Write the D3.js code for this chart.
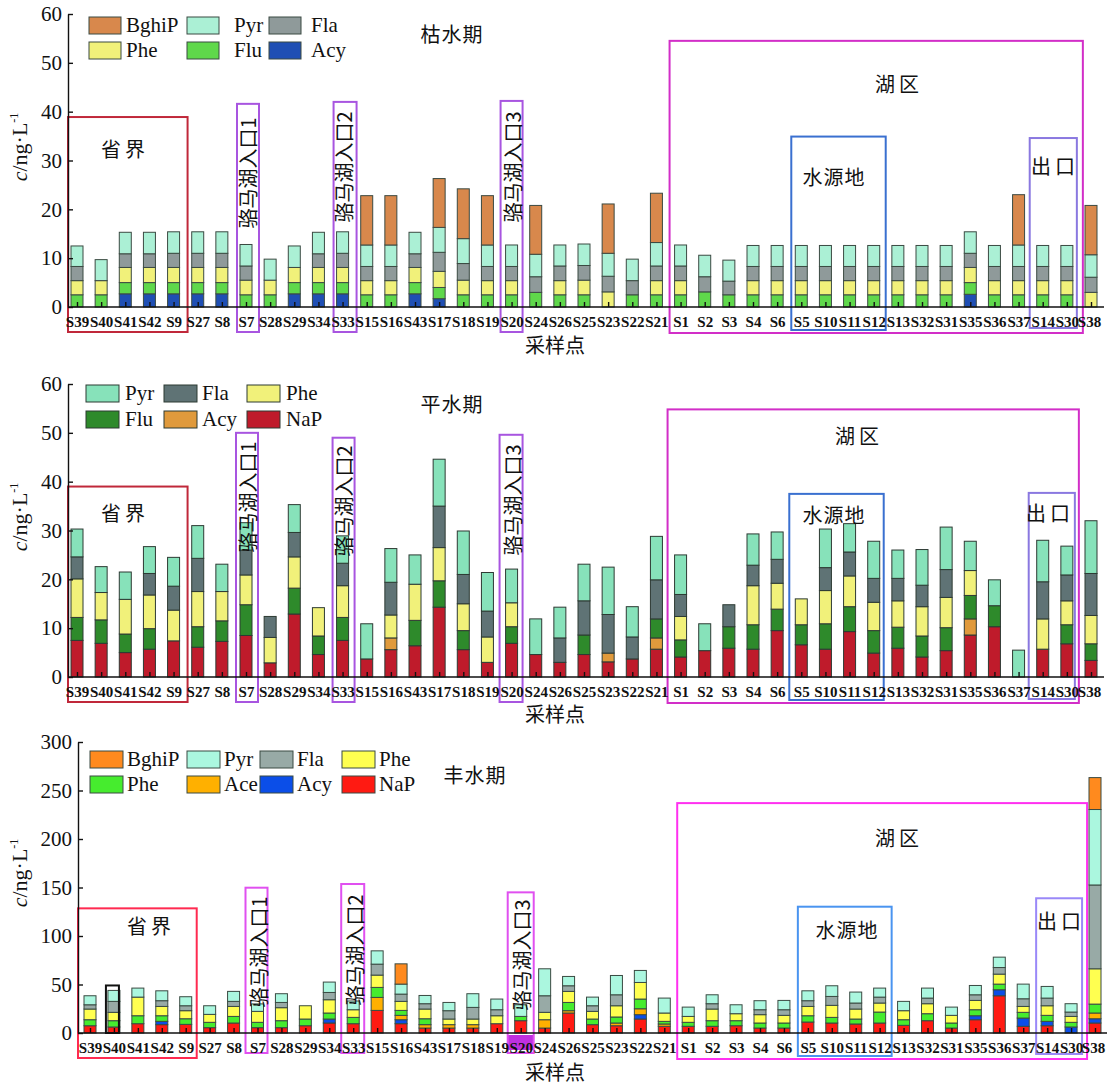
<!DOCTYPE html>
<html>
<head>
<meta charset="utf-8">
<script src="https://cdn.jsdelivr.net/npm/d3@7"></script>
<style>
  body { margin: 0; background: #fff; }
  svg { display: block; }
  text { font-family: "Liberation Serif", "Times New Roman", serif; fill: #111; }
  .cjk { font-family: "Noto Sans CJK SC", sans-serif; }
</style>
</head>
<body>
<div id="chart"></div>
<script>
// sampling sites, left to right
const sites = ["S39","S40","S41","S42","S9","S27","S8","S7","S28","S29",
               "S34","S33","S15","S16","S43","S17","S18","S19","S20","S24",
               "S26","S25","S23","S22","S21","S1","S2","S3","S4","S6",
               "S5","S10","S11","S12","S13","S32","S31","S35","S36","S37",
               "S14","S30","S38"];

// 枯水期 (ng/L), stacked bottom -> top
const dryAcy   = [0,0,2.7,2.7,2.7, 2.7,2.7,0,0,2.7, 2.7,2.7,0,0,2.7, 1.7,0,0,0,0, 0,0,0,0,0, 0,0,0,0,0, 0,0,0,0,0, 0,0,2.6,0,0, 0,0,0];
const dryFlu   = [2.5,2.5,2.3,2.3,2.3, 2.3,2.3,2.5,2.5,2.3, 2.3,2.3,2.5,2.5,2.3, 2.3,2.5,2.5,2.5,3.0, 2.5,2.5,0,2.5,2.5, 2.5,3.1,2.5,2.5,2.5, 2.5,2.5,2.5,2.5,2.5, 2.5,2.5,2.4,2.5,2.5, 2.5,2.5,0];
const dryPhe   = [2.9,2.9,3.1,3.1,3.1, 3.1,3.1,3.0,3.0,3.1, 3.1,3.1,2.9,2.9,3.1, 3.3,3.0,2.9,2.9,0, 2.9,3.0,3.1,0,2.9, 2.9,0,0,2.9,2.9, 2.9,2.9,2.9,2.9,2.9, 2.9,2.9,3.1,2.9,2.9, 2.9,2.9,3.0];
const dryFla   = [2.9,0,2.8,2.8,2.9, 2.9,2.9,2.9,0,0, 2.8,2.9,2.9,2.9,2.8, 3.9,3.4,2.9,2.9,3.2, 3.0,3.0,3.2,2.9,3.0, 3.0,3.1,2.8,2.9,2.9, 2.9,2.9,2.9,2.9,2.9, 2.9,2.9,2.9,2.9,2.9, 2.9,2.9,3.1];
const dryPyr   = [4.2,4.3,4.4,4.4,4.4, 4.4,4.4,4.4,4.3,4.4, 4.4,4.4,4.4,4.4,4.4, 5.1,5.1,4.4,4.4,4.6, 4.3,4.4,4.7,4.4,4.8, 4.3,4.4,4.3,4.3,4.3, 4.3,4.3,4.3,4.3,4.3, 4.3,4.3,4.4,4.3,4.4, 4.3,4.3,4.6];
const dryBghiP = [0,0,0,0,0, 0,0,0,0,0, 0,0,10.1,10.1,0, 10.0,10.2,10.1,0,10.0, 0,0,10.1,0,10.1, 0,0,0,0,0, 0,0,0,0,0, 0,0,0,0,10.3, 0,0,10.1];

// 平水期
const normNaP = [7.5,6.9,5.0,5.7,7.4, 6.1,7.3,8.5,2.9,12.9, 4.6,7.5,3.7,5.6,6.4, 14.3,5.6,3.0,6.9,4.6, 3.0,4.6,3.1,3.7,5.7, 4.1,5.4,5.9,5.7,9.5, 6.6,5.7,9.3,4.9,5.9, 4.1,5.4,8.6,10.3,0, 5.7,6.8,3.4];
const normAcy = [0,0,0,0,0, 0,0,0,0,0, 0,0,0,2.4,0, 0,0,0,0,0, 0,0,1.8,0,2.3, 0,0,0,0,0, 0,0,0,0,0, 0,0,3.3,0,0, 0,0,0];
const normFlu = [4.7,4.8,3.8,4.2,0, 4.2,4.2,6.3,0,5.3, 3.8,4.7,0,0,5.2, 5.4,3.9,0,3.4,0, 0,4.0,0,0,3.9, 3.5,0,4.4,5.0,4.4, 4.1,5.2,5.1,4.6,4.3, 4.3,4.7,4.8,4.3,0, 0,3.9,3.4];
const normPhe = [7.9,5.6,7.1,6.9,6.3, 7.2,6.0,6.1,5.2,6.4, 5.8,6.5,0,4.7,7.4, 6.8,5.5,5.2,4.9,0, 0,0,0,0,0, 4.8,0,0,8.0,5.3, 5.3,6.8,6.3,5.8,5.4, 6.0,6.2,5.1,0,0, 6.2,4.9,5.8];
const normFla = [4.5,0,0,4.4,4.9, 6.8,0,5.1,4.3,5.0, 0,4.6,0,6.7,0, 8.5,6.0,5.3,0,0, 5.0,7.0,7.9,4.5,8.0, 4.5,0,4.5,4.2,4.9, 0,4.7,4.9,4.9,4.6, 4.4,5.7,0,0,0, 7.6,5.3,8.6];
const normPyr = [5.7,5.3,5.6,5.5,5.9, 6.7,5.6,5.6,0,5.7, 0,5.6,7.2,6.9,6.0, 9.6,8.9,7.9,6.9,7.3, 6.3,7.5,9.7,6.2,8.9, 8.1,5.5,0,6.4,5.6, 0,7.9,5.8,7.6,5.8, 7.3,8.7,6.0,5.3,5.5, 8.5,5.9,10.8];

// 丰水期
const wetNaP   = [7.5,6.2,9.6,8.6,8.9, 5.5,10.3,5.5,5.5,7.5, 10.3,9.6,23.3,9.6,5.1, 5.1,5.1,9.6,12.7,5.1, 20.6,8.6,7.5,14.4,6.9, 6.9,6.9,7.5,5.1,5.1, 11.3,10.3,9.3,10.3,7.9, 12.7,5.1,13.7,38.4,6.9, 7.5,0,10.3];
const wetAcy   = [0,0,0,3.4,0, 0,0,0,0,0, 4.1,0,0,4.1,0, 0,0,0,0,0, 0,0,0,4.5,0, 0,0,0,0,0, 0,0,0,0,0, 0,0,4.1,6.2,8.5, 4.5,6.2,4.4];
const wetAce   = [0,0,0,0,0, 0,0,0,0,0, 0,0,13.4,4.5,3.5, 3.5,3.5,0,0,8.6, 2.4,0,2.8,6.1,2.4, 0,0,0,0,0, 0,0,0,0,0, 0,0,0,0,0, 0,0,5.9];
const wetFlu   = [6.2,6.5,8.2,5.8,5.8, 5.5,6.8,5.5,7.2,6.9, 6.2,6.5,10.3,5.1,6.1, 0,0,0,4.4,0, 8.5,5.8,6.2,10.0,2.7, 4.1,5.8,5.2,5.2,5.2, 6.5,5.8,5.1,11.3,5.8, 7.2,5.2,6.2,5.8,5.9, 6.2,4.8,9.2];
const wetPhe   = [11.0,8.6,19.2,9.6,8.3, 8.2,10.3,11.3,13.4,13.7, 13.7,7.9,12.7,9.3,10.0, 5.8,5.8,8.2,0,7.6, 11.4,7.9,11.6,17.1,8.6, 6.1,12.0,7.2,8.6,7.9, 9.6,12.4,10.3,9.3,9.3, 10.3,7.9,9.6,10.3,6.1, 9.9,6.1,36.4];
const wetFla   = [4.4,11.3,0,5.9,5.1, 0,5.2,0,5.4,0, 7.5,0,11.3,7.5,5.5, 8.6,12.0,6.2,0,17.1, 5.8,5.8,11.3,0,0, 0,5.5,0,5.1,5.8, 5.9,9.2,6.2,6.1,0, 5.8,0,5.8,6.8,7.9, 7.9,4.5,86.4];
const wetPyr   = [9.3,11.3,9.3,10.2,9.3, 8.9,10.3,7.7,9.0,0, 10.7,9.0,13.7,10.3,8.5, 8.5,14.1,11.0,12.0,27.8, 9.6,8.9,19.9,12.4,15.4, 9.6,9.2,9.2,9.3,9.6, 10.2,11.0,11.3,9.3,9.6, 10.3,8.5,9.6,10.7,15.1, 12.0,8.6,77.8];
const wetBghiP = [0,0,0,0,0, 0,0,0,0,0, 0,0,0,20.9,0, 0,0,0,0,0, 0,0,0,0,0, 0,0,0,0,0, 0,0,0,0,0, 0,0,0,0,0, 0,0,32.9];

const smallTicks = [0,10,20,30,40,50,60];
const bigTicks = [0,50,100,150,200,250,300];

const W = 1107, H = 1086, barW = 12;
const svg = d3.select("#chart").append("svg").attr("width", W).attr("height", H);

const dry = {
  title: "枯水期", titlePos: [452, 33],
  keys: ["Acy","Flu","Phe","Fla","Pyr","BghiP"],
  series: [dryAcy, dryFlu, dryPhe, dryFla, dryPyr, dryBghiP],
  colors: {Acy:"#1f4fb4", Flu:"#5fd84b", Phe:"#f1f17a", Fla:"#8f9a9a", Pyr:"#abf0d5", BghiP:"#d8884c"},
  stroke: "#3b4a42",
  ticks: smallTicks, yMax: 60, yRange: [307, 14], xRange: [77, 1091], axisX: 68, axisEnd: 1104,
  ytitleY: 147, xtitleY: 353,
  legend: [
    {k:"BghiP", sx:89, tx:126, r:0}, {k:"Pyr", sx:187, tx:234, r:0}, {k:"Fla", sx:269, tx:311, r:0},
    {k:"Phe", sx:89, tx:126, r:1}, {k:"Flu", sx:187, tx:234, r:1}, {k:"Acy", sx:269, tx:311, r:1}],
  legendY: [17, 42], swW: 32,
  boxes: [
    {a:"S39", b:"S9",  dl:-9,  dr:14,  top:38.9, bottom:332, c:"#c0283a"},
    {a:"S7",  b:"S7",  dl:-9,  dr:13,  top:41.6, bottom:332, c:"#a855e0"},
    {a:"S33", b:"S33", dl:-9,  dr:14,  top:42.0, bottom:332, c:"#a855e0"},
    {a:"S20", b:"S20", dl:-11, dr:11,  top:42.2, bottom:332, c:"#a855e0"},
    {a:"S1",  b:"S30", dl:-11, dr:16,  top:54.5, bottom:333, c:"#d22ec8"},
    {a:"S5",  b:"S12", dl:-10, dr:12,  top:34.9, bottom:330, c:"#3a70d0"},
    {a:"S14", b:"S30", dl:-13, dr:10,  top:34.6, bottom:328, c:"#8a78e0"}],
  labels: [
    {t:"省界", x:125, y:148}, {t:"湖区", x:899, y:83}, {t:"水源地", x:834, y:176}, {t:"出口", x:1055, y:165},
    {t:"骆马湖入口1", site:"S7", y:173, rot:true}, {t:"骆马湖入口2", site:"S33", y:167, rot:true},
    {t:"骆马湖入口3", site:"S20", y:167, rot:true}]
};

const norm = {
  title: "平水期", titlePos: [452, 403],
  keys: ["NaP","Acy","Flu","Phe","Fla","Pyr"],
  series: [normNaP, normAcy, normFlu, normPhe, normFla, normPyr],
  colors: {NaP:"#bf1b2b", Acy:"#e09a3c", Flu:"#2e8a2b", Phe:"#f1f17a", Fla:"#5f7375", Pyr:"#87e2ba"},
  stroke: "#2d3a33",
  ticks: smallTicks, yMax: 60, yRange: [677, 384], xRange: [77, 1091], axisX: 68, axisEnd: 1104,
  ytitleY: 517, xtitleY: 722,
  legend: [
    {k:"Pyr", sx:86, tx:125, r:0}, {k:"Fla", sx:164, tx:202, r:0}, {k:"Phe", sx:247, tx:286, r:0},
    {k:"Flu", sx:86, tx:125, r:1}, {k:"Acy", sx:164, tx:202, r:1}, {k:"NaP", sx:247, tx:286, r:1}],
  legendY: [385, 411], swW: 33,
  boxes: [
    {a:"S39", b:"S9",  dl:-9,  dr:14,  top:39.0, bottom:702, c:"#c0283a"},
    {a:"S7",  b:"S7",  dl:-10, dr:12,  top:50.0, bottom:702, c:"#a855e0"},
    {a:"S33", b:"S33", dl:-10, dr:12,  top:49.0, bottom:702, c:"#a855e0"},
    {a:"S20", b:"S20", dl:-12, dr:11,  top:49.6, bottom:702, c:"#a855e0"},
    {a:"S1",  b:"S30", dl:-13, dr:12,  top:54.8, bottom:703, c:"#d22ec8"},
    {a:"S5",  b:"S12", dl:-12, dr:10,  top:37.5, bottom:700, c:"#3a70d0"},
    {a:"S14", b:"S30", dl:-14, dr:8,   top:37.7, bottom:699, c:"#8a78e0"}],
  labels: [
    {t:"省界", x:125, y:512}, {t:"湖区", x:859, y:435}, {t:"水源地", x:834, y:514}, {t:"出口", x:1050, y:512},
    {t:"骆马湖入口1", site:"S7", y:497, rot:true}, {t:"骆马湖入口2", site:"S33", y:501, rot:true},
    {t:"骆马湖入口3", site:"S20", y:500, rot:true}]
};

const wet = {
  title: "丰水期", titlePos: [475, 774],
  keys: ["NaP","Acy","Ace","Flu","Phe","Fla","Pyr","BghiP"],
  series: [wetNaP, wetAcy, wetAce, wetFlu, wetPhe, wetFla, wetPyr, wetBghiP],
  colors: {NaP:"#ff1a12", Acy:"#0b4ee8", Ace:"#ffb000", Flu:"#46ec2e", Phe:"#ffff50", Fla:"#98aaa6", Pyr:"#abf7df", BghiP:"#ff8a1e"},
  names: {Flu:"Phe"},
  stroke: "#3a4a42",
  ticks: bigTicks, yMax: 300, yRange: [1033, 742], xRange: [90, 1095], axisX: 78, axisEnd: 1107,
  ytitleY: 873, xtitleY: 1080,
  legend: [
    {k:"BghiP", sx:90, tx:127, r:0}, {k:"Pyr", sx:187, tx:224, r:0}, {k:"Fla", sx:260, tx:297, r:0}, {k:"Phe", sx:342, tx:379, r:0},
    {k:"Flu", sx:90, tx:127, r:1}, {k:"Ace", sx:187, tx:224, r:1}, {k:"Acy", sx:260, tx:297, r:1}, {k:"NaP", sx:342, tx:379, r:1}],
  legendY: [751, 776], swW: 33,
  boxes: [
    {a:"S39", b:"S9",  dl:-12, dr:11,  top:128.5, bottom:1058, c:"#ff2a50"},
    {a:"S40", b:"S40", dl:-8,  dr:5,   top:49,    bottom:1033, c:"#111"},
    {a:"S7",  b:"S7",  dl:-12, dr:10,  top:149.8, bottom:1053, c:"#e050f0"},
    {a:"S33", b:"S33", dl:-12, dr:11,  top:153.6, bottom:1053, c:"#e050f0"},
    {a:"S20", b:"S20", dl:-13, dr:13,  top:145,   bottom:1053, c:"#e050f0", fill:[1035, 1050]},
    {a:"S1",  b:"S30", dl:-11, dr:16,  top:237,   bottom:1059, c:"#ff30f0"},
    {a:"S5",  b:"S12", dl:-10, dr:12,  top:130.2, bottom:1056, c:"#4a94f0"},
    {a:"S14", b:"S30", dl:-11, dr:11,  top:138.9, bottom:1054, c:"#9a88f8"}],
  labels: [
    {t:"省界", x:151, y:925}, {t:"湖区", x:899, y:837}, {t:"水源地", x:847, y:929}, {t:"出口", x:1061, y:920},
    {t:"骆马湖入口1", site:"S7", y:952, rot:true}, {t:"骆马湖入口2", site:"S33", y:950, rot:true},
    {t:"骆马湖入口3", site:"S20", y:955, rot:true}]
};

function drawPanel(p) {
  const g = svg.append("g");
  const x = d3.scalePoint().domain(sites).range(p.xRange);
  const y = d3.scaleLinear().domain([0, p.yMax]).range(p.yRange);

  const rows = sites.map((s, i) => {
    const r = {site: s};
    p.keys.forEach((k, j) => r[k] = p.series[j][i]);
    return r;
  });
  const stacked = d3.stack().keys(p.keys)(rows);

  // stacked bars
  g.selectAll("g.layer").data(stacked).join("g")
    .attr("class", "layer")
    .attr("fill", d => p.colors[d.key])
    .selectAll("rect").data(d => d.filter(v => v[1] - v[0] > 0)).join("rect")
    .attr("x", d => x(d.data.site) - barW / 2)
    .attr("width", barW)
    .attr("y", d => y(d[1]))
    .attr("height", d => y(d[0]) - y(d[1]))
    .attr("stroke", p.stroke)
    .attr("stroke-width", 1);

  // annotation boxes
  p.boxes.forEach(b => {
    const x0 = x(b.a) + b.dl, x1 = x(b.b) + b.dr;
    if (b.fill) {
      g.append("rect").attr("x", x0).attr("y", b.fill[0])
        .attr("width", x1 - x0).attr("height", b.fill[1] - b.fill[0])
        .attr("fill", "#c030e0");
    }
    g.append("rect").attr("x", x0).attr("y", y(b.top))
      .attr("width", x1 - x0).attr("height", b.bottom - y(b.top))
      .attr("fill", "none").attr("stroke", b.c).attr("stroke-width", 2);
  });

  // y axis
  const yAxis = d3.axisLeft(y).tickValues(p.ticks).tickSizeInner(-5).tickSizeOuter(0).tickPadding(6);
  const ya = g.append("g").attr("transform", `translate(${p.axisX},0)`).call(yAxis);
  ya.selectAll("text").attr("font-size", 21).attr("fill", "#111")
    .style("font-family", "'Liberation Serif', serif");
  ya.selectAll("line, path").attr("stroke", "#111").attr("stroke-width", 1.4);

  // x axis
  const xAxis = d3.axisBottom(x).tickSizeInner(-5).tickSizeOuter(0).tickPadding(9);
  const xa = g.append("g").attr("transform", `translate(0,${p.yRange[0]})`).call(xAxis);
  xa.select(".domain").remove();
  xa.selectAll("line").attr("stroke", "#111").attr("stroke-width", 1.4);
  xa.selectAll("text").attr("font-size", 15).attr("font-weight", "bold").attr("fill", "#1a1a1a")
    .style("font-family", "'Liberation Serif', serif");
  xa.selectAll(".tick").filter(d => d === "S38").select("text").attr("dx", -2);
  g.append("line").attr("x1", p.axisX).attr("x2", p.axisEnd)
    .attr("y1", p.yRange[0]).attr("y2", p.yRange[0])
    .attr("stroke", "#111").attr("stroke-width", 1.6);

  // axis titles
  const yt = g.append("text")
    .attr("transform", `translate(27,${p.ytitleY}) rotate(-90)`)
    .attr("text-anchor", "middle").attr("font-size", 22);
  yt.append("tspan").attr("font-style", "italic").text("c");
  yt.append("tspan").text("/ng·L");
  yt.append("tspan").attr("font-size", 12).attr("dy", -9).text("-1");

  g.append("text").attr("class", "cjk").attr("x", 555).attr("y", p.xtitleY)
    .attr("text-anchor", "middle").attr("font-size", 20).text("采样点");

  // legend
  p.legend.forEach(l => {
    const ly = p.legendY[l.r];
    g.append("rect").attr("x", l.sx).attr("y", ly).attr("width", p.swW).attr("height", 17)
      .attr("fill", p.colors[l.k]).attr("stroke", p.stroke).attr("stroke-width", 1);
    g.append("text").attr("x", l.tx).attr("y", ly + 15).attr("font-size", 21)
      .text((p.names && p.names[l.k]) || l.k);
  });

  // title and region labels
  g.append("text").attr("class", "cjk").attr("x", p.titlePos[0]).attr("y", p.titlePos[1])
    .attr("text-anchor", "middle").attr("dominant-baseline", "central").attr("font-size", 20)
    .attr("letter-spacing", 1).text(p.title);

  p.labels.forEach(l => {
    const t = g.append("text").attr("class", "cjk").attr("text-anchor", "middle")
      .attr("dominant-baseline", "central").attr("font-size", 20).text(l.t);
    if (l.rot) {
      t.attr("transform", `translate(${x(l.site) + 1},${l.y}) rotate(-90)`);
    } else {
      t.attr("x", l.x).attr("y", l.y).attr("letter-spacing", l.t.length === 2 ? 4 : 1);
    }
  });
}

[dry, norm, wet].forEach(drawPanel);
</script>
</body>
</html>
